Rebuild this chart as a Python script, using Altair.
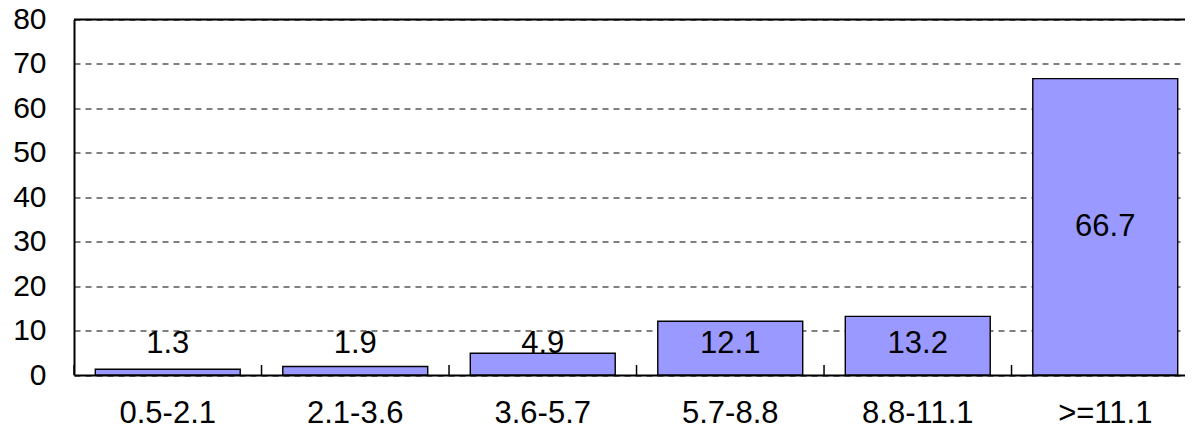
import altair as alt
import pandas as pd

categories = ["0.5-2.1", "2.1-3.6", "3.6-5.7", "5.7-8.8", "8.8-11.1", ">=11.1"]
values = [1.3, 1.9, 4.9, 12.1, 13.2, 66.7]
y_ticks = [0, 10, 20, 30, 40, 50, 60, 70, 80]

df = pd.DataFrame({"cat": categories, "value": values})

FONT = "Liberation Sans"
FS = 31

xscale = alt.Scale(domain=categories, range=[0, 1125], paddingInner=0.227, paddingOuter=0.1135)
yscale = alt.Scale(domain=[0, 80], nice=False)

base = alt.Chart(df)

bars = base.mark_bar(color="#9999FF", stroke="black", strokeWidth=1.4).encode(
    x=alt.X("cat:N", scale=xscale, sort=categories,
            axis=alt.Axis(title=None, labelAngle=0, labelFont=FONT, labelFontSize=FS,
                          labelColor="black", labelPadding=23, ticks=False,
                          domainColor="black", domainWidth=2, grid=False)),
    y=alt.Y("value:Q", scale=yscale,
            axis=alt.Axis(title=None, values=y_ticks, labelFont=FONT, labelFontSize=30,
                          labelColor="black", labelPadding=28, ticks=False,
                          domainColor="black", domainWidth=2, grid=True,
                          gridColor="black", gridDash=[6, 5], gridWidth=1)),
)

ticks = base.mark_rule(color="black", strokeWidth=1.5, xOffset=-21.25).encode(
    x=alt.X("cat:N", scale=xscale, sort=categories, bandPosition=0),
    y=alt.datum(0),
    y2=alt.datum(2.25),
)

top = alt.Chart(pd.DataFrame({"v": [80]})).mark_rule(color="black", strokeWidth=2).encode(
    y=alt.Y("v:Q", scale=yscale)
)

labels = base.transform_calculate(
    label_y="max(datum.value / 2, 6.9)"
).mark_text(font=FONT, fontSize=FS, color="black", baseline="middle").encode(
    x=alt.X("cat:N", scale=xscale, sort=categories),
    y=alt.Y("label_y:Q", scale=yscale),
    text=alt.Text("value:Q", format=".1f"),
)

chart = alt.layer(bars, ticks, top, labels).properties(
    width=1111,
    height=355.5,
    autosize=alt.AutoSizeParams(type="none"),
    padding={"left": 66, "top": 11.5, "right": 0, "bottom": 48},
).configure_view(stroke=None).configure(background="white")

chart.save("out.html", embed_options={"renderer": "svg", "actions": False})
